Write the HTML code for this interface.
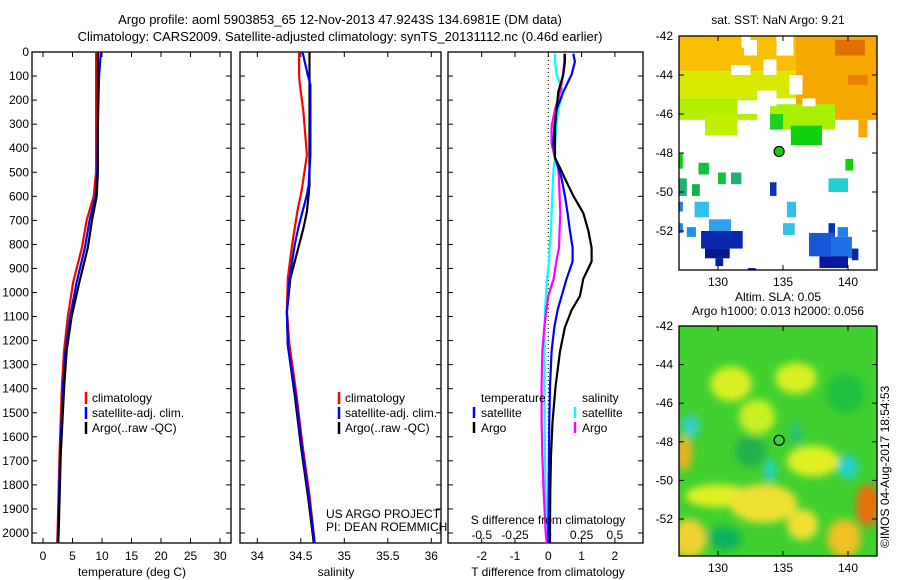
<!DOCTYPE html>
<html><head><meta charset="utf-8"><style>
body{margin:0;background:#fff;}
svg{display:block;font-family:"Liberation Sans",sans-serif;}
text{font-size:12px;fill:#000;}
</style></head><body>
<svg id="c" width="900" height="580" viewBox="0 0 900 580">
<defs>
<filter id="bl" x="-20%" y="-20%" width="140%" height="140%"><feGaussianBlur stdDeviation="4"/></filter>
<clipPath id="m1c"><rect x="679" y="36" width="198" height="234"/></clipPath>
<clipPath id="m2c"><rect x="679" y="326" width="198" height="230"/></clipPath>
</defs>
<text x="340" y="24" text-anchor="middle" style="font-size:13px">Argo profile: aoml 5903853_65 12-Nov-2013 47.9243S 134.6981E (DM data)</text>
<text x="340" y="41" text-anchor="middle" style="font-size:13px">Climatology: CARS2009. Satellite-adjusted climatology: synTS_20131112.nc (0.46d earlier)</text>
</svg>
<script>
const depthsT=[0,100,200,300,400,497,600,699,814,958,1101,1245,1389,1676,1965,2042];
const tClim=[9.0,9.0,9.0,9.0,9.0,9.0,8.6,7.4,6.6,5.1,4.2,3.56,3.2,2.8,2.5,2.4];
const tSat=[9.8,9.5,9.4,9.3,9.25,9.2,8.9,7.9,7.1,5.7,4.6,3.8,3.4,2.9,2.6,2.5];
const tArgo=[9.3,9.3,9.3,9.3,9.3,9.3,9.1,8.3,7.6,6.15,4.85,4.0,3.6,3.0,2.7,2.6];
const depthsS=[0,96,137,248,428,553,594,664,733,802,941,1080,1218,1426,1634,1842,2042];
const sClim=[34.48,34.48,34.49,34.53,34.57,34.52,34.50,34.46,34.43,34.40,34.35,34.34,34.37,34.45,34.52,34.60,34.66];
const sSat=[34.52,34.58,34.61,34.61,34.61,34.59,34.57,34.52,34.47,34.43,34.37,34.34,34.35,34.44,34.51,34.59,34.66];
const sArgo=[34.60,34.60,34.60,34.60,34.60,34.60,34.59,34.57,34.53,34.48,34.38,34.34,34.35,34.43,34.50,34.58,34.65];
const dD=[7,40,94,166,238,310,382,440,482,526,598,670,742,814,871,943,1015,1073,1145,1245,1389,1533,1676,1821,1994,2042];
const dTArgo=[0.5,0.5,0.45,0.3,0.25,0.2,0.2,0.2,0.35,0.5,0.75,1.05,1.2,1.3,1.3,1.05,0.95,0.7,0.5,0.35,0.22,0.13,0.08,0.06,0.05,0.05];
const dTSat=[0.75,0.8,0.7,0.45,0.25,0.18,0.15,0.2,0.3,0.4,0.5,0.58,0.65,0.73,0.73,0.55,0.4,0.28,0.18,0.1,0.05,0.03,0.02,0.01,0.0,0.0];
const dSSat=[0.05,0.05,0.0625,0.11,0.075,0.06,0.05,0.05,0.04,0.035,0.03,0.025,0.02,0.01,0.005,-0.01,-0.018,-0.025,-0.028,-0.03,-0.03,-0.028,-0.025,-0.02,-0.015,-0.012];
const dSArgo=[0.12,0.12,0.11,0.09,0.05,0.025,0.025,0.05,0.075,0.08,0.085,0.09,0.085,0.08,0.06,0.04,0.0,-0.015,-0.03,-0.045,-0.05,-0.05,-0.045,-0.035,-0.02,-0.012];
const depthTicks=[0,100,200,300,400,500,600,700,800,900,1000,1100,1200,1300,1400,1500,1600,1700,1800,1900,2000];
const tTicks=[0,5,10,15,20,25,30];
const sTicks=[34,34.5,35,35.5,36];
const dTTicks=[-2,-1,0,1,2];
const dSTicks=["-0.5","-0.25","0","0.25","0.5"];
const lonTicks=[130,135,140];
const latTicks=[-42,-44,-46,-48,-50,-52];

const svg=document.getElementById('c');
const NS='http://www.w3.org/2000/svg';
function el(tag,attrs,parent){const e=document.createElementNS(NS,tag);for(const k in attrs)e.setAttribute(k,attrs[k]);(parent||svg).appendChild(e);return e;}
function txt(x,y,s,anchor,parent){const t=el('text',{x:x,y:y,'text-anchor':anchor||'middle'},parent);t.textContent=s;return t;}
const Y=d=>52+d*0.2405;
const plotTop=52,plotBot=543;
const xT=v=>43+v*5.9;
const xS=v=>257.3+(v-34)*87;
const xD=v=>548.3+v*33.3;
const xDS=v=>548.3+v*4*33.3;

function frame(x0,x1,name){
  const r=el('rect',{x:x0,y:plotTop,width:x1-x0,height:plotBot-plotTop,fill:'none',stroke:'#000','stroke-width':1.3});
  
  
  depthTicks.forEach(d=>{el('line',{x1:x0,x2:x0+5,y1:Y(d),y2:Y(d),stroke:'#000'});el('line',{x1:x1-5,x2:x1,y1:Y(d),y2:Y(d),stroke:'#000'});});
}
function line(xs,ds,fx,color,name,w){
  const pts=xs.map((v,i)=>fx(v).toFixed(1)+','+Y(ds[i]).toFixed(1)).join(' ');
  const p=el('polyline',{points:pts,fill:'none',stroke:color,'stroke-width':w||2.2,'stroke-linejoin':'round'});
  
  
}
depthTicks.forEach(d=>{const t=txt(29,Y(d)+4,String(d),'end');});
frame(32,231,'temperature-panel');
tTicks.forEach(v=>{el('line',{x1:xT(v),x2:xT(v),y1:plotBot,y2:plotBot-5,stroke:'#000'});el('line',{x1:xT(v),x2:xT(v),y1:plotTop,y2:plotTop+5,stroke:'#000'});const t=txt(xT(v),560,String(v));});
line(tClim,depthsT,xT,'#f00','temperature-climatology-line');
line(tSat,depthsT,xT,'#00f','temperature-satellite-line');
line(tArgo,depthsT,xT,'#000','temperature-argo-line');
{const t=txt(132,576,'temperature (deg C)');}
frame(240,441,'salinity-panel');
sTicks.forEach(v=>{el('line',{x1:xS(v),x2:xS(v),y1:plotBot,y2:plotBot-5,stroke:'#000'});el('line',{x1:xS(v),x2:xS(v),y1:plotTop,y2:plotTop+5,stroke:'#000'});const t=txt(xS(v),560,String(v));});
line(sClim,depthsS,xS,'#f00','salinity-climatology-line');
line(sArgo,depthsS,xS,'#000','salinity-argo-line');
line(sSat,depthsS,xS,'#00f','salinity-satellite-line');
{const t=txt(336,576,'salinity');}
function legend(x,name){
  const g=el('g',{});
  [['#f00','climatology'],['#00f','satellite-adj. clim.'],['#000','Argo(..raw -QC)']].forEach((e,i)=>{
    el('line',{x1:x,x2:x,y1:392+i*15,y2:404+i*15,stroke:e[0],'stroke-width':2.5},g);
    txt(x+6,402+i*15,e[1],'start',g);});
}
legend(86,'temperature-legend');legend(339,'salinity-legend');
{const t=txt(326,518,'US ARGO PROJECT','start');
 const t2=txt(326,531,'PI: DEAN ROEMMICH','start');}
frame(448,643,'difference-panel');
el('line',{x1:xD(0),x2:xD(0),y1:plotTop,y2:plotBot,stroke:'#000','stroke-dasharray':'1,3'});
dTTicks.forEach(v=>{el('line',{x1:xD(v),x2:xD(v),y1:plotBot,y2:plotBot-5,stroke:'#000'});el('line',{x1:xD(v),x2:xD(v),y1:plotTop,y2:plotTop+5,stroke:'#000'});const t=txt(xD(v),560,String(v));});
dSTicks.forEach(v=>{const t=txt(xDS(parseFloat(v)),539,v);});
line(dSSat,dD,xDS,'#0ff','salinity-satellite-difference-line');
line(dSArgo,dD,xDS,'#f0f','salinity-argo-difference-line');
line(dTSat,dD,xD,'#00f','temperature-satellite-difference-line');
line(dTArgo,dD,xD,'#000','temperature-argo-difference-line');
{const t=txt(548,524,'S difference from climatology');
 const t2=txt(548,576,'T difference from climatology');}
{const g=el('g',{});
 txt(481,402,'temperature','start',g);txt(582,402,'salinity','start',g);
 [['#00f',474,'satellite',417],['#000',474,'Argo',432],['#0ff',575,'satellite',417],['#f0f',575,'Argo',432]].forEach(e=>{
   el('line',{x1:e[1],x2:e[1],y1:e[3]-10,y2:e[3]+1,stroke:e[0],'stroke-width':2.5},g);txt(e[1]+7,e[3],e[2],'start',g);});}
const mx=lon=>679+(lon-127)*13;
const my1=lat=>36+(-42-lat)*19.5;
const my2=lat=>326+(-42-lat)*19.3;
function mapAxes(y0,y1,fy,name){
  const r=el('rect',{x:679,y:y0,width:198,height:y1-y0,fill:'none',stroke:'#000','stroke-width':1.3});
  
  lonTicks.forEach(v=>{el('line',{x1:mx(v),x2:mx(v),y1:y1,y2:y1-5,stroke:'#000'});el('line',{x1:mx(v),x2:mx(v),y1:y0,y2:y0+5,stroke:'#000'});const t=txt(mx(v),y1+16,String(v));});
  latTicks.forEach(v=>{el('line',{x1:679,x2:684,y1:fy(v),y2:fy(v),stroke:'#000'});el('line',{x1:872,x2:877,y1:fy(v),y2:fy(v),stroke:'#000'});const t=txt(673,fy(v)+4,String(v),'end');});
}
const sstCells=[
[127,-42,142.3,-43.8,'#f8c000'],[136,-42,142.3,-46.3,'#f5a800'],[139,-42.2,141.3,-43,'#e07000'],[140,-44,141.5,-44.5,'#e88000'],
[127,-43.8,136,-45.2,'#d8e800'],[127,-45.2,133,-46.3,'#b0f000'],[134,-45.5,139,-46.8,'#a8f000'],[129,-46,131.5,-47.1,'#c0f000'],
[135.6,-46.6,138,-47.6,'#10d010'],[134,-46,135,-46.8,'#20d020'],[140.8,-46.3,141.5,-47.2,'#f8a800'],
[128.5,-48.5,129.3,-49.1,'#10c040'],[130,-49,130.6,-49.6,'#10c040'],[131,-49,131.8,-49.6,'#20b070'],[127,-48,127.3,-48.8,'#10d010'],
[127,-49.3,127.6,-50.2,'#20b070'],[128,-49.6,128.6,-50.2,'#10b050'],[134,-49.5,134.5,-50.2,'#1030b0'],[139.8,-48.3,140.4,-48.9,'#10d010'],
[138.5,-49.3,140,-50,'#20d0d0'],[128.2,-50.5,129.3,-51.3,'#30c0e8'],[135.3,-50.5,136,-51.3,'#30c0e8'],[135,-51.6,135.9,-52.2,'#30c0e8'],
[127,-50.5,127.3,-51,'#2080e0'],[127,-51.6,127.3,-52.1,'#2080e0'],[127.6,-51.8,128.3,-52.3,'#2090f0'],
[129.3,-51.4,131,-52,'#30a0f0'],[128.7,-52,131.9,-52.9,'#0828b0'],[129,-52.9,130.9,-53.4,'#001890'],[129.8,-53.4,130.4,-53.8,'#0020a0'],
[132.3,-53.9,132.9,-54,'#0020a0'],[138.5,-51.6,139,-52.1,'#0830b0'],[139.2,-51.8,140,-52.3,'#2080f0'],
[137,-52.1,139,-53.3,'#1858d8'],[138.7,-52.3,140.3,-53.4,'#2070e8'],[137.8,-53.3,140,-53.9,'#0818a0'],[140.3,-52.9,140.8,-53.5,'#0828a8']];
const gm1=el('g',{'clip-path':'url(#m1c)'});
sstCells.forEach(c=>{el('rect',{x:mx(c[0]),y:my1(c[1]),width:mx(c[2])-mx(c[0]),height:my1(c[3])-my1(c[1]),fill:c[4]},gm1);});
[[132,-42.2,133,-43],[131,-43.5,132.5,-44],[134.5,-42,135.8,-43],[133.5,-43.2,134.5,-44],[135.5,-44,136.5,-45],[133,-44.8,134.5,-45.6],[131.5,-45.3,133,-46],[136.5,-45.2,137.5,-45.6],[131.8,-42,132.5,-42.6]]
.forEach(c=>{el('rect',{x:mx(c[0]),y:my1(c[1]),width:mx(c[2])-mx(c[0]),height:my1(c[3])-my1(c[1]),fill:'#fff'},gm1);});
el('circle',{cx:mx(134.7),cy:my1(-47.92),r:5,fill:'#10d010',stroke:'#000','stroke-width':1.2},gm1);
mapAxes(36,270,my1,'sst-map-frame');
{const t=txt(778,24,'sat. SST: NaN Argo: 9.21');}
const slaBlobs=[[131,-45,1.6,0.9,'#d8f020'],[136,-44.7,1.6,0.8,'#d8f020'],[133,-46.7,1.4,0.9,'#c8f020'],[137.3,-49,2,0.8,'#e0f020'],
[130,-50.8,2.5,0.6,'#e0f020'],[133.5,-51.2,2.6,1,'#f0e030'],[136.5,-52.3,1.2,0.8,'#f0e030'],[127.8,-53,1.3,1,'#f0d030'],[139.7,-53,1.3,1,'#f0c020'],
[141.5,-51.3,0.9,1.1,'#e87010'],[127.4,-48.6,0.6,0.9,'#f0b020'],[134,-49.5,0.4,0.6,'#20d0d0'],[140,-49.3,0.8,0.6,'#20d0d0'],[127.9,-47.2,0.7,0.6,'#30d0c0'],
[136,-47.6,0.4,0.6,'#20c080'],[130.5,-53,1.3,0.6,'#10b060'],[132.5,-48.5,1.2,0.8,'#20b050'],[139.8,-45.5,1.5,1,'#20c040']];
const gm2=el('g',{'clip-path':'url(#m2c)'});
el('rect',{x:679,y:326,width:198,height:230,fill:'#40d030'},gm2);
const gb=el('g',{filter:'url(#bl)'},gm2);
slaBlobs.forEach(b=>{el('ellipse',{cx:mx(b[0]),cy:my2(b[1]),rx:b[2]*13,ry:b[3]*19.3,fill:b[4]},gb);});
el('circle',{cx:mx(134.7),cy:my2(-47.92),r:5,fill:'none',stroke:'#000','stroke-width':1.2},gm2);
mapAxes(326,556,my2,'sla-map-frame');
{const t=txt(778,301,'Altim. SLA: 0.05');
 const t2=txt(778,315,'Argo h1000: 0.013 h2000: 0.056');
 const t3=el('text',{x:0,y:0,transform:'translate(889,548) rotate(-90)','text-anchor':'start'});t3.textContent='©IMOS 04-Aug-2017 18:54:53';
 
 }
</script>
</body></html>
